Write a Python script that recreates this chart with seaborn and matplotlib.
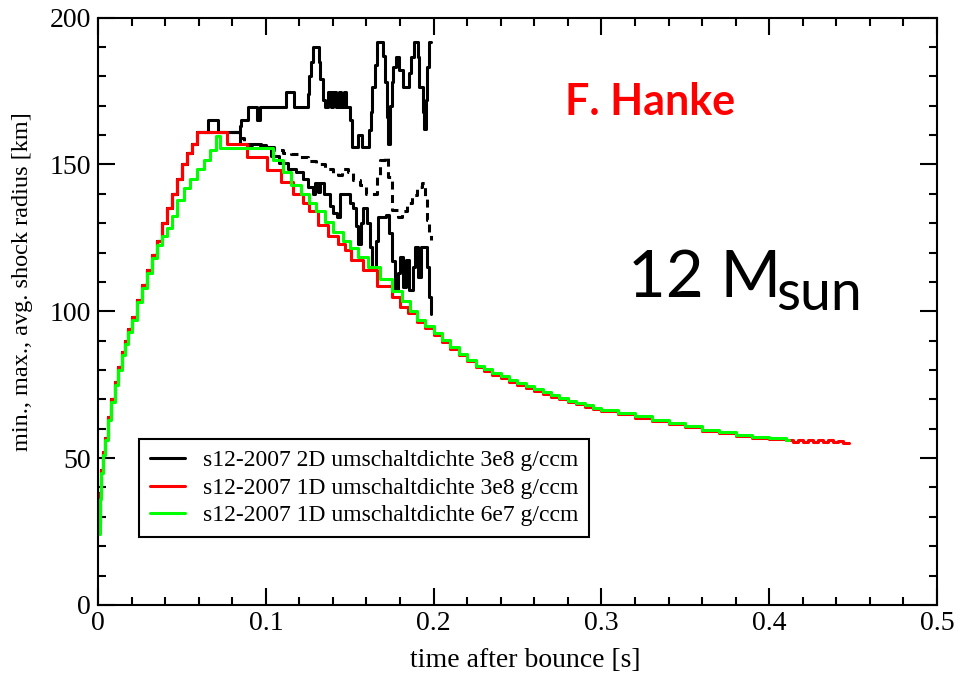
import matplotlib
matplotlib.use("Agg")
import matplotlib.pyplot as plt
import seaborn as sns
from matplotlib.lines import Line2D
from matplotlib.ticker import MultipleLocator, FixedLocator, FixedFormatter

# ---------------------------------------------------------------- data
# 2D run: common early evolution of min / max / average shock radius
t_2d_early = [0.000, 0.001, 0.002, 0.003, 0.004, 0.006, 0.008, 0.010, 0.012, 0.014,
              0.016, 0.018, 0.020, 0.023, 0.026, 0.029, 0.032, 0.035, 0.038, 0.041,
              0.044, 0.047, 0.050, 0.053, 0.056, 0.059]
r_2d_early = [28, 38, 46, 52, 57, 64, 70, 76, 81, 86,
              90, 94, 98, 104, 109, 114, 119, 124, 130, 135,
              140, 145, 150, 154, 157, 161]

# 2D run: maximum shock radius after the early phase
t_2d_max = [0.0655, 0.0715, 0.0845, 0.0855, 0.0893, 0.0945, 0.0965, 0.112, 0.117, 0.125,
            0.126, 0.127, 0.128, 0.1315, 0.1325, 0.134, 0.1355, 0.137, 0.139, 0.140,
            0.142, 0.1435, 0.145, 0.1465, 0.148, 0.150, 0.1515, 0.155, 0.1575, 0.1615,
            0.1625, 0.1635, 0.165, 0.166, 0.170, 0.1712, 0.1722, 0.173, 0.174, 0.175,
            0.176, 0.1775, 0.1795, 0.1815, 0.1855, 0.1868, 0.1885, 0.1905, 0.1915, 0.1935,
            0.1945, 0.1955, 0.1962, 0.197, 0.1985]
r_2d_max = [165, 161, 163, 165, 169.6, 165, 169.6, 174.8, 169.6, 174,
            180, 185, 190, 185, 179, 172, 169.6, 174.8, 169.6, 174.8,
            169.6, 174.8, 169.6, 174.8, 169.6, 165, 156, 160, 156, 161.7,
            168, 176.5, 184, 191.8, 187, 178, 166, 157, 170, 178,
            183, 186.7, 182, 176.5, 181, 186.7, 191.8, 186.7, 176.5, 168,
            162, 172, 183, 191.8, 191.8]

# 2D run: average shock radius
t_2d_avg = [0.0845, 0.087, 0.090, 0.100, 0.105, 0.110, 0.115, 0.120, 0.125, 0.130,
            0.135, 0.140, 0.143, 0.1455, 0.149, 0.152, 0.156, 0.160, 0.1645, 0.166,
            0.168, 0.171, 0.173, 0.175, 0.179, 0.181, 0.184, 0.187, 0.190, 0.193,
            0.195, 0.196, 0.1975, 0.1986]
r_2d_avg = [159, 157, 156.5, 156, 155, 154, 153.5, 152.5, 151, 150,
            148.6, 147, 146.4, 148.6, 147.5, 144.7, 143, 140, 140, 146,
            151.5, 152.6, 145.8, 134.5, 132.2, 134, 136.7, 139.5, 142.4, 143.5,
            139, 131, 127, 124.3]

# 2D run: minimum shock radius
t_2d_min = [0.0845, 0.097, 0.103, 0.108, 0.113, 0.118, 0.122, 0.125, 0.128, 0.1295,
            0.131, 0.1325, 0.1345, 0.1385, 0.140, 0.1425, 0.1445, 0.150, 0.152, 0.1535,
            0.155, 0.1565, 0.158, 0.1605, 0.162, 0.1635, 0.1655, 0.167, 0.1715, 0.1735,
            0.1755, 0.177, 0.1785, 0.180, 0.182, 0.1835, 0.1855, 0.1875, 0.189, 0.1905,
            0.1925, 0.196, 0.1972, 0.1986]
r_2d_min = [157, 156, 153, 150.5, 148.5, 147.5, 145, 142.4, 140, 143.6,
            140.5, 143.5, 140, 136, 133.3, 132.2, 140, 137, 135, 129,
            123, 130, 135, 130, 122, 115.2, 124, 132.2, 132.8, 126.5,
            117, 107.2, 113, 118.6, 108.4, 117.4, 107.2, 115, 122, 111.8,
            122, 115, 105, 99.2]

# 1D run, switching density 3e8 g/ccm
t_1d_3e8 = [0.000, 0.001, 0.002, 0.003, 0.004, 0.006, 0.008, 0.010, 0.012, 0.014,
            0.016, 0.018, 0.020, 0.023, 0.026, 0.029, 0.032, 0.035, 0.038, 0.041,
            0.044, 0.047, 0.050, 0.053, 0.056, 0.059, 0.077, 0.089, 0.101, 0.109,
            0.116, 0.122, 0.126, 0.131, 0.137, 0.143, 0.147, 0.151, 0.158, 0.166,
            0.175, 0.180, 0.185, 0.190, 0.195, 0.200, 0.205, 0.210, 0.215, 0.220,
            0.225, 0.230, 0.235, 0.240, 0.245, 0.250, 0.255, 0.260, 0.265, 0.270,
            0.275, 0.280, 0.285, 0.290, 0.295, 0.300, 0.310, 0.320, 0.330, 0.340,
            0.350, 0.360, 0.370, 0.380, 0.390, 0.400, 0.410, 0.414, 0.417, 0.420,
            0.423, 0.426, 0.429, 0.432, 0.435, 0.438, 0.441, 0.444, 0.4476]
r_1d_3e8 = [28, 38, 46, 52, 57, 64, 70, 76, 81, 86,
            90, 94, 98, 104, 109, 114, 119, 124, 130, 135,
            140, 145, 150, 154, 157, 161, 157, 152.5, 148, 144,
            140, 137, 134, 129.5, 125.5, 123, 121, 117.5, 114, 108.5,
            105, 101.5, 99.5, 96.5, 94.3, 92, 89.5, 87.3, 85, 83,
            81, 79.6, 78.3, 77.3, 76, 75, 74, 72.8, 71.9, 70.8,
            70, 69, 68.3, 67.5, 66.8, 66, 65, 63.8, 62.6, 61.6,
            60.5, 59.4, 58.6, 57.7, 57, 56.5, 56, 55.5, 56.2, 55.4,
            56.1, 55.5, 56.3, 55.5, 56.1, 55.4, 55.8, 55.1, 55.0]

# 1D run, switching density 6e7 g/ccm
t_1d_6e7 = [0.000, 0.001, 0.002, 0.003, 0.004, 0.006, 0.008, 0.010, 0.012, 0.014,
            0.016, 0.018, 0.020, 0.023, 0.026, 0.029, 0.032, 0.035, 0.038, 0.041,
            0.044, 0.047, 0.051, 0.055, 0.059, 0.063, 0.067, 0.0705, 0.0725, 0.104,
            0.110, 0.115, 0.121, 0.126, 0.130, 0.135, 0.140, 0.146, 0.150, 0.155,
            0.161, 0.168, 0.175, 0.181, 0.186, 0.190, 0.195, 0.200, 0.205, 0.210,
            0.215, 0.220, 0.225, 0.230, 0.235, 0.240, 0.245, 0.250, 0.255, 0.260,
            0.265, 0.270, 0.275, 0.280, 0.285, 0.290, 0.295, 0.300, 0.310, 0.320,
            0.330, 0.340, 0.350, 0.360, 0.370, 0.380, 0.390, 0.400, 0.410, 0.412]
r_1d_6e7 = [24, 36, 45, 51, 56, 63, 69, 75, 80, 85,
            89, 93, 97, 103, 108, 113, 118, 122.5, 125.5, 128.5,
            132.5, 138, 142, 145, 148.5, 151.5, 155, 159.5, 155.5, 151.5,
            147.5, 143, 140, 137, 134, 130.5, 127, 124, 121.5, 118.5,
            115, 111, 107, 103.5, 100, 97, 95, 92.7, 90.3, 88,
            85.5, 83.5, 81.5, 80.2, 79, 77.8, 76.6, 75.5, 74.5, 73.4,
            72.4, 71.4, 70.4, 69.5, 68.7, 68, 67.2, 66.5, 65.3, 64.2,
            63, 62, 60.8, 59.7, 58.8, 58, 57.3, 56.7, 56.2, 56.2]

series_labels = ["s12-2007 2D umschaltdichte 3e8 g/ccm",
                 "s12-2007 1D umschaltdichte 3e8 g/ccm",
                 "s12-2007 1D umschaltdichte 6e7 g/ccm"]
series_colors = ["#000000", "#ff0000", "#00ff00"]

x_ticks = [0.0, 0.1, 0.2, 0.3, 0.4, 0.5]
x_tick_labels = ["0", "0.1", "0.2", "0.3", "0.4", "0.5"]
y_ticks = [0, 50, 100, 150, 200]
y_tick_labels = ["0", "50", "100", "150", "200"]

# ---------------------------------------------------------------- style
sns.set_theme(style="ticks")
plt.rcParams["font.family"] = ["Liberation Serif", "DejaVu Serif"]
plt.rcParams["axes.edgecolor"] = "black"
plt.rcParams["axes.linewidth"] = 1.5

fig = plt.figure(figsize=(9.61, 6.74), dpi=100)
ax = fig.add_axes([0.102, 0.1024, 0.873, 0.8716])

LW = 2.2
black, red, green = series_colors

# 2D run: max and min solid, average dashed
sns.lineplot(x=t_2d_early + t_2d_max, y=r_2d_early + r_2d_max, ax=ax, color=black,
             linewidth=LW, drawstyle="steps-post", estimator=None, sort=False)
sns.lineplot(x=t_2d_early + t_2d_min, y=r_2d_early + r_2d_min, ax=ax, color=black,
             linewidth=LW, drawstyle="steps-post", estimator=None, sort=False)
sns.lineplot(x=t_2d_early + t_2d_avg, y=r_2d_early + r_2d_avg, ax=ax, color=black,
             linewidth=LW, linestyle=(0, (2.6, 1.8)), drawstyle="steps-post",
             estimator=None, sort=False)

# 1D runs
sns.lineplot(x=t_1d_3e8, y=r_1d_3e8, ax=ax, color=red, linewidth=LW,
             drawstyle="steps-post", estimator=None, sort=False)
sns.lineplot(x=t_1d_6e7, y=r_1d_6e7, ax=ax, color=green, linewidth=LW,
             drawstyle="steps-post", estimator=None, sort=False)

ax.set_xlim(0, 0.5)
ax.set_ylim(0, 200)
ax.xaxis.set_major_locator(FixedLocator(x_ticks))
ax.xaxis.set_major_formatter(FixedFormatter(x_tick_labels))
ax.xaxis.set_minor_locator(MultipleLocator(0.02))
ax.yaxis.set_major_locator(FixedLocator(y_ticks))
ax.yaxis.set_major_formatter(FixedFormatter(y_tick_labels))
ax.yaxis.set_minor_locator(MultipleLocator(10))
ax.tick_params(which="both", direction="in", top=True, right=True,
               width=1.5, color="black", labelsize=20, labelcolor="black")
ax.tick_params(which="major", length=12.5)
ax.tick_params(which="minor", length=6)
ax.tick_params(axis="x", which="both", pad=4)
ax.tick_params(axis="y", which="both", pad=5)
for s in ax.spines.values():
    s.set_color("black")
    s.set_linewidth(1.5)

ax.set_xlabel("time after bounce [s]", fontsize=20, color="black")
ax.set_ylabel("min., max., avg. shock radius [km]", fontsize=17.5, color="black")
ax.xaxis.set_label_coords(0.509, -0.074)
ax.yaxis.set_label_coords(-0.078, 0.55)

handles = [Line2D([], [], color=c, linewidth=LW) for c in series_colors]
leg = ax.legend(handles, series_labels, loc="lower left", bbox_to_anchor=(0.049, 0.116),
                borderaxespad=0, frameon=True, fancybox=False, shadow=False,
                edgecolor="black", facecolor="white", framealpha=1, fontsize=17,
                handlelength=1.5, handletextpad=0.75, labelspacing=0.25, borderpad=0.45)
leg.get_frame().set_linewidth(1.5)
for txt in leg.get_texts():
    txt.set_color("black")

# annotations
fig.text(565 / 961, 1 - 115 / 674, "F. Hanke", color="#ff0000", fontsize=31,
         fontweight="bold", family=["Lato", "DejaVu Sans"], ha="left", va="baseline")
fig.text(628 / 961, 1 - 297 / 674, "12 M", color="black", fontsize=47,
         family=["Lato", "DejaVu Sans"], ha="left", va="baseline")
fig.text(776 / 961, 1 - 310 / 674, "sun", color="black", fontsize=40,
         family=["Lato", "DejaVu Sans"], ha="left", va="baseline")

fig.savefig("out.png", dpi=100, facecolor="white")
